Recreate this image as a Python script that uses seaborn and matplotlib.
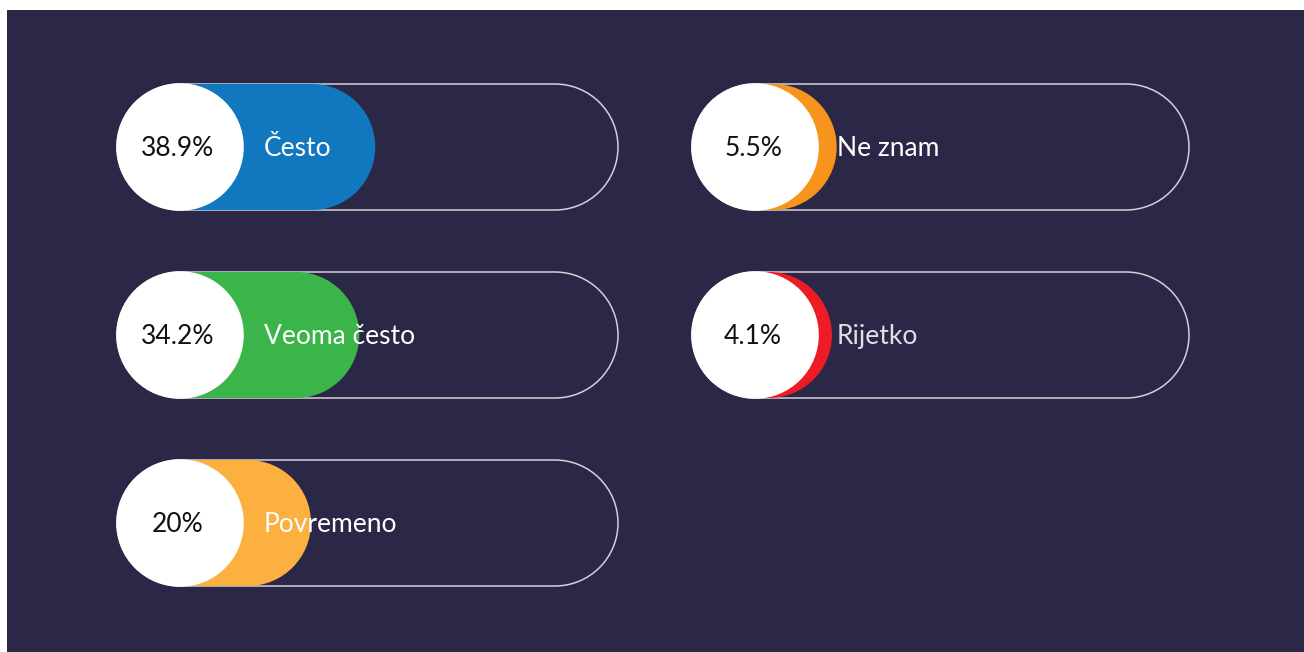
import matplotlib
matplotlib.use("Agg")
import numpy as np
import matplotlib.pyplot as plt
from matplotlib.patches import PathPatch, Circle
from matplotlib.path import Path
import seaborn as sns

# podaci
kategorije = ["Često", "Veoma često", "Povremeno", "Ne znam", "Rijetko"]
vrijednosti = [38.9, 34.2, 20.0, 5.5, 4.1]
oznake = ["38.9%", "34.2%", "20%", "5.5%", "4.1%"]
boje = ["#1177bf", "#3bb44a", "#fbb040", "#f7941d", "#ed1c24"]
stupac = [0, 0, 0, 1, 1]
red = [0, 1, 2, 0, 1]

sns.set_theme(style="white")
plt.rcParams["font.family"] = ["Lato", "DejaVu Sans"]


def pilula(x, y, w, h):
    # zaobljeni pravokutnik s polukružnim krajevima
    r = h / 2
    desno = Path.arc(-90, 90)
    lijevo = Path.arc(90, 270)
    v1 = desno.vertices * r + [x + w - r, y]
    v2 = lijevo.vertices * r + [x + r, y]
    c2 = lijevo.codes.copy()
    c2[0] = Path.LINETO
    verts = np.vstack([v1, v2, v1[:1]])
    codes = np.concatenate([desno.codes, c2, [Path.CLOSEPOLY]])
    return Path(verts, codes)


BG = "#2b2746"
fig = plt.figure(figsize=(13.04, 6.52), dpi=100, facecolor="white")
ax = fig.add_axes([7 / 1304, 0, 1297 / 1304, 642 / 652])
ax.set_facecolor(BG)
ax.set_xlim(7, 1304)
ax.set_ylim(652, 10)
ax.set_axis_off()
ax.add_patch(plt.Rectangle((7, 10), 1297, 642, color=BG, zorder=0))

x0 = [117, 692]
sirina = [501, 497]
yc = [147, 335, 523]
H = 126
R = H / 2
px_po_postotku = 3.4

for kat, v, lab, c, s, r in zip(kategorije, vrijednosti, oznake, boje, stupac, red):
    x = x0[s]
    y = yc[r]
    # okvir
    ax.add_patch(PathPatch(pilula(x, y, sirina[s], H),
                           fc="none", ec="#d6cfd9", lw=1.1, zorder=1))
    # obojena traka
    w = H + v * px_po_postotku
    ax.add_patch(PathPatch(pilula(x, y, w, H), fc=c, ec="none", zorder=2))
    # bijeli krug
    ax.add_patch(Circle((x + R, y), R + 0.8, fc="white", ec="none", zorder=3))
    ax.text(x + R - 2, y + 1, lab, ha="center", va="center",
            fontsize=19, color="#111111", zorder=4)
    ax.text(x + H + 19 + 2 * (1 - s), y + 1, kat, ha="left", va="center",
            fontsize=19, color="white" if v > 5 else "#e2dfe8", zorder=4)

fig.savefig("out.png", dpi=100, facecolor=fig.get_facecolor())
